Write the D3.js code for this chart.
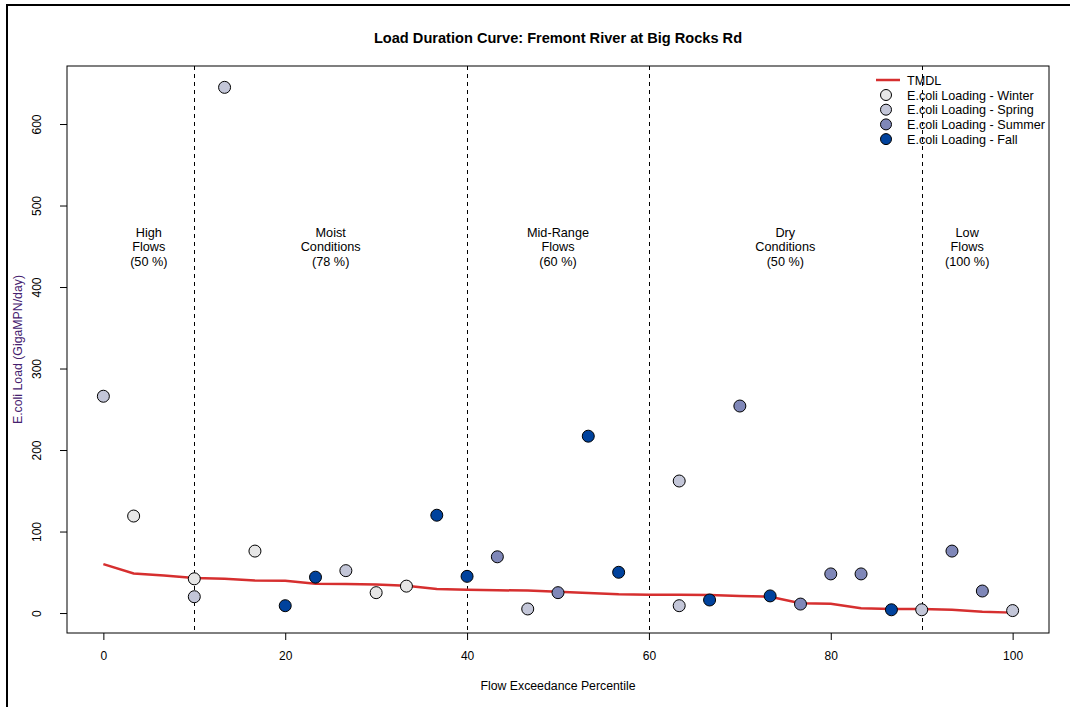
<!DOCTYPE html>
<html><head><meta charset="utf-8">
<script src="https://cdn.jsdelivr.net/npm/d3@7"></script>
<style>body{margin:0;background:#fff;} svg{display:block;font-family:"Liberation Sans",Arial,sans-serif;}</style>
</head><body>
<script>
const title = "Load Duration Curve: Fremont River at Big Rocks Rd";
const xLabel = "Flow Exceedance Percentile";
const yLabel = "E.coli Load (GigaMPN/day)";
const xTicks = [0, 20, 40, 60, 80, 100];
const yTicks = [0, 100, 200, 300, 400, 500, 600];

const winterX = [3.33, 10, 16.67, 30, 33.33];
const winterY = [119, 42, 76, 25, 33];
const springX = [0, 10, 13.33, 26.67, 46.67, 63.33, 63.33, 90, 100];
const springY = [266, 20, 645, 52, 5, 162, 9, 4, 3];
const summerX = [43.33, 50, 70, 76.67, 80, 83.33, 93.33, 96.67];
const summerY = [69, 25, 254, 11, 48, 48, 76, 27];
const fallX = [20, 23.33, 36.67, 40, 53.33, 56.67, 66.67, 73.33, 86.67];
const fallY = [9, 44, 120, 45, 217, 50, 16, 21, 4];

const tmdlX = [0, 3.33, 6.67, 10, 13.33, 16.67, 20, 23.33, 26.67, 30, 33.33, 36.67, 40, 43.33, 46.67, 50, 53.33, 56.67, 60, 63.33, 66.67, 70, 73.33, 76.67, 80, 83.33, 86.67, 90, 93.33, 96.67, 100];
const tmdlY = [60, 48.5, 46, 43, 42, 40, 39.5, 36, 35.5, 35, 33.5, 29.5, 28.5, 28, 27.5, 26, 24.5, 23, 22.5, 22.5, 22, 21, 20, 12, 11.5, 6, 5, 5, 4, 1.5, 0.5];

const zoneBreaks = [10, 40, 60, 90];
const zoneCenters = [5, 25, 50, 75, 95];
const zoneLabels = [["High", "Flows", "(50 %)"], ["Moist", "Conditions", "(78 %)"], ["Mid-Range", "Flows", "(60 %)"], ["Dry", "Conditions", "(50 %)"], ["Low", "Flows", "(100 %)"]];

const seriesNames = ["E.coli Loading - Winter", "E.coli Loading - Spring", "E.coli Loading - Summer", "E.coli Loading - Fall"];
const seriesColors = ["#e6e6e6", "#c3c6d8", "#7f87b8", "#00429d"];
const tmdlName = "TMDL";

const W = 1070, H = 707;
const svg = d3.select("body").append("svg").attr("width", W).attr("height", H);

// outer frame
svg.append("rect").attr("x", 7).attr("y", 5).attr("width", W + 10).attr("height", H + 10)
  .attr("fill", "none").attr("stroke", "#000").attr("stroke-width", 2);

const L = 67, R = 1049, T = 66, B = 633;
const x = d3.scaleLinear().domain([-4, 104]).range([L, R]);
const y = d3.scaleLinear().domain([-24.5, 671.2]).range([B, T]);

// title
svg.append("text").attr("x", (L + R) / 2).attr("y", 43).attr("text-anchor", "middle")
  .attr("font-size", 14.6).attr("font-weight", "bold").text(title);

// axes
const xAxis = svg.append("g").attr("transform", `translate(0,${B})`)
  .call(d3.axisBottom(x).tickValues(xTicks).tickSize(7).tickPadding(11).tickFormat(d3.format("d")));
const yAxis = svg.append("g").attr("transform", `translate(${L},0)`)
  .call(d3.axisLeft(y).tickValues(yTicks).tickSize(7).tickFormat(d3.format("d")));
[xAxis, yAxis].forEach(g => {
  g.select(".domain").remove();
  g.selectAll("line").attr("stroke", "#000");
  g.selectAll("text").attr("fill", "#000").attr("font-size", 12).attr("font-family", "Liberation Sans, Arial, sans-serif");
});
yAxis.selectAll(".tick text").attr("transform", "rotate(-90)").attr("x", 0).attr("y", -30)
  .attr("dy", "0.35em").attr("text-anchor", "middle");

// plot frame
svg.append("rect").attr("x", L).attr("y", T).attr("width", R - L).attr("height", B - T)
  .attr("fill", "none").attr("stroke", "#000").attr("stroke-width", 1);

// axis labels
svg.append("text").attr("x", (L + R) / 2).attr("y", 690).attr("text-anchor", "middle")
  .attr("font-size", 12.3).text(xLabel);
svg.append("text").attr("transform", `translate(22,${(T + B) / 2}) rotate(-90)`).attr("text-anchor", "middle")
  .attr("font-size", 12.3).attr("fill", "#45206e").text(yLabel);

// zone lines
svg.append("g").selectAll("line").data(zoneBreaks).join("line")
  .attr("x1", d => Math.round(x(d)) + 0.5).attr("x2", d => Math.round(x(d)) + 0.5)
  .attr("y1", T).attr("y2", B).attr("stroke", "#000").attr("stroke-width", 1).attr("stroke-dasharray", "4,4");

// zone labels
const zl = svg.append("g");
zoneLabels.forEach((lines, i) => {
  lines.forEach((t, j) => {
    zl.append("text").attr("x", x(zoneCenters[i])).attr("y", 236.5 + j * 14.7)
      .attr("text-anchor", "middle").attr("font-size", 12.7).text(t);
  });
});

// TMDL line
const tmdl = tmdlX.map((v, i) => [v, tmdlY[i]]);
svg.append("path").datum(tmdl).attr("fill", "none").attr("stroke", "#d62f2f").attr("stroke-width", 2.5)
  .attr("d", d3.line().x(d => x(d[0])).y(d => y(d[1])));

// points
const series = [[winterX, winterY], [springX, springY], [summerX, summerY], [fallX, fallY]];
series.forEach((s, k) => {
  const pts = s[0].map((v, i) => [v, s[1][i]]);
  svg.append("g").selectAll("circle").data(pts).join("circle")
    .attr("cx", d => x(d[0])).attr("cy", d => y(d[1])).attr("r", 6)
    .attr("fill", seriesColors[k]).attr("stroke", "#000").attr("stroke-width", 1);
});

// legend
const lg = svg.append("g");
lg.append("line").attr("x1", 876).attr("x2", 900).attr("y1", 80).attr("y2", 80)
  .attr("stroke", "#d62f2f").attr("stroke-width", 2.5);
lg.append("text").attr("x", 907).attr("y", 84.5).attr("font-size", 12.6).text(tmdlName);
seriesNames.forEach((n, i) => {
  const yy = 95 + i * 14.7;
  lg.append("circle").attr("cx", 886).attr("cy", yy).attr("r", 5.5)
    .attr("fill", seriesColors[i]).attr("stroke", "#000").attr("stroke-width", 1);
  lg.append("text").attr("x", 907).attr("y", yy + 4.5).attr("font-size", 12.6).text(n);
});
</script>
</body></html>
